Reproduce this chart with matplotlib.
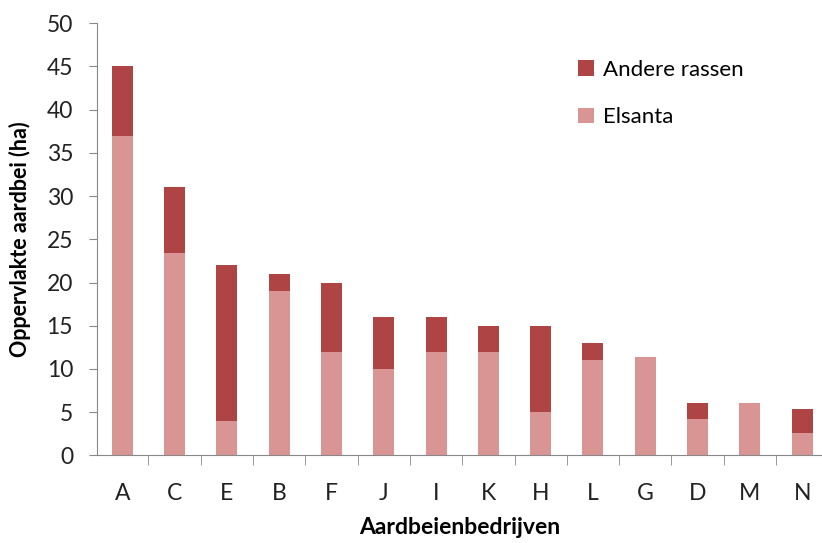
import matplotlib.pyplot as plt
from matplotlib.ticker import MultipleLocator, FixedLocator, NullFormatter

plt.rcParams['font.family'] = ['Lato', 'DejaVu Sans']

bedrijven = ['A', 'C', 'E', 'B', 'F', 'J', 'I', 'K', 'H', 'L', 'G', 'D', 'M', 'N']
elsanta = [37, 23.4, 4, 19, 12, 10, 12, 12, 5, 11, 11.4, 4.2, 6, 2.6]
totaal = [45, 31, 22, 21, 20, 16, 16, 15, 15, 13, 11.4, 6, 6, 5.4]
andere = [t - e for t, e in zip(totaal, elsanta)]

licht = '#d99594'
donker = '#ae4444'

fig = plt.figure(figsize=(8.22, 5.43), dpi=100)
ax = fig.add_axes([0.1176, 0.1615, 0.8824, 0.7956])

x = range(len(bedrijven))
b1 = ax.bar(x, elsanta, width=0.40, color=licht, label='Elsanta')
b2 = ax.bar(x, andere, width=0.40, bottom=elsanta, color=donker, label='Andere rassen')

ax.set_ylim(0, 50)
ax.set_xlim(-0.49, 13.38)
ax.yaxis.set_major_locator(MultipleLocator(5))
ax.set_xticks(list(x))
ax.set_xticklabels(bedrijven)
# tick marks sit between the categories, like in Excel
ax.xaxis.set_minor_locator(FixedLocator([i + 0.5 for i in range(len(bedrijven) - 1)]))
ax.xaxis.set_minor_formatter(NullFormatter())
ax.tick_params(axis='x', which='major', length=0, pad=20, labelsize=16.5, labelcolor='#222222')
ax.tick_params(axis='x', which='minor', length=7, color='#888888', direction='out')
ax.tick_params(axis='y', length=6, color='#888888', labelsize=16.5, pad=11, labelcolor='#222222')

for s in ['top', 'right']:
    ax.spines[s].set_visible(False)
for s in ['left', 'bottom']:
    ax.spines[s].set_color('#888888')

ax.set_ylabel('Oppervlakte aardbei (ha)', fontsize=15.5, fontweight='bold', labelpad=11)
ax.set_xlabel('Aardbeienbedrijven', fontsize=16.5, fontweight='bold', labelpad=9)

ax.legend([b2, b1], ['Andere rassen', 'Elsanta'], loc='upper left',
          bbox_to_anchor=(0.664, 0.916), frameon=False, fontsize=16,
          borderpad=0, borderaxespad=0,
          labelspacing=1.25, handlelength=0.7, handleheight=0.7, handletextpad=0.4)

fig.savefig('out.png', dpi=100)
